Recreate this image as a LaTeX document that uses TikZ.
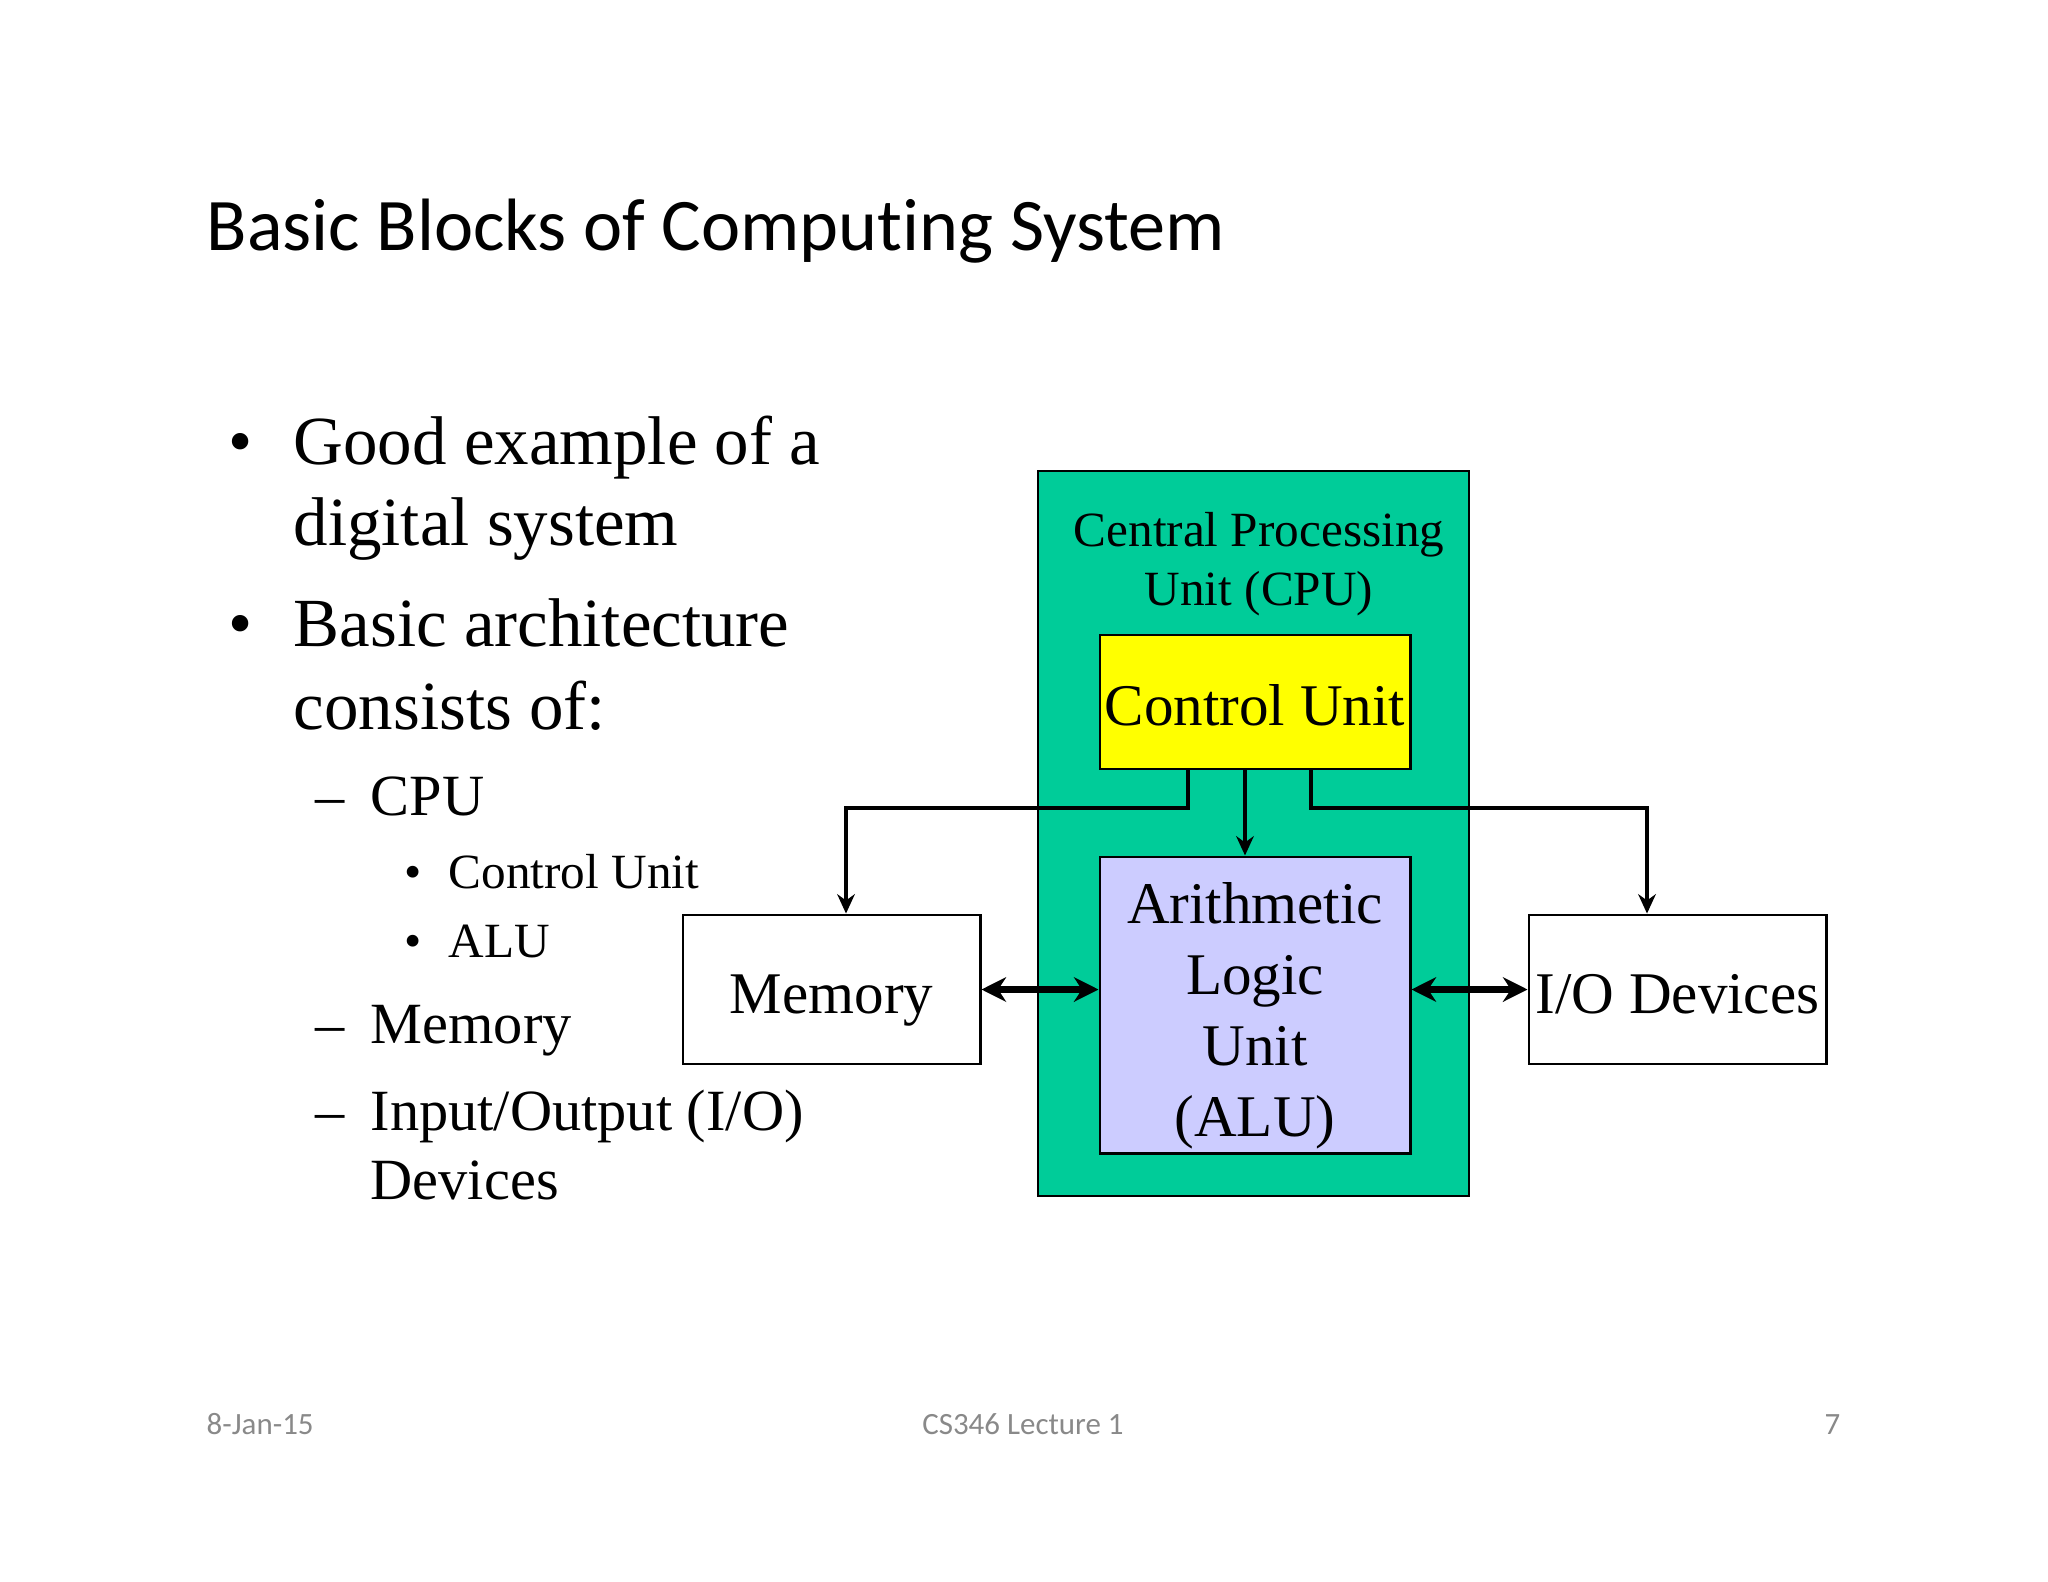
\documentclass[tikz,border=0pt]{standalone}
\usepackage{fontspec}
\setmainfont{Liberation Serif}
\newfontfamily\slidefont[Ligatures=NoCommon]{Carlito}
\usetikzlibrary{arrows.meta}

\definecolor{cpugreen}{RGB}{0,204,153}
\definecolor{cuyellow}{RGB}{255,255,0}
\definecolor{alublue}{RGB}{204,204,255}
\definecolor{footgray}{RGB}{137,137,137}

\tikzset{
  unitbox/.style={draw, line width=0.8pt, inner sep=0pt,
    font=\fontsize{16.8}{20.2}\selectfont},
  oneline/.style={text height=15pt, text depth=1.4pt},
  bus/.style={line width=1.4pt, -{Stealth[length=5.5pt,width=5pt]}},
  link/.style={line width=1.9pt, {Stealth[length=7pt,width=7pt]}-{Stealth[length=7pt,width=7pt]}},
  lvlone/.style={anchor=base west, inner sep=0pt, font=\fontsize{19.6}{23.5}\selectfont},
  lvltwo/.style={anchor=base west, inner sep=0pt, font=\fontsize{16.6}{20}\selectfont},
  lvlthree/.style={anchor=base west, inner sep=0pt, font=\fontsize{14}{17}\selectfont},
  footer/.style={inner sep=0pt, text=footgray, font=\slidefont\fontsize{8.8}{10.5}\selectfont}
}

\begin{document}
\begin{tikzpicture}[x=0.01cm, y=-0.01cm]
  \useasboundingbox (0,0) rectangle (2048,1582);

  % slide title
  \node[anchor=base west, inner sep=0pt, font=\slidefont\fontsize{21.1}{25}\selectfont] (title) at (206,251) {Basic Blocks of Computing System};

  % bullet list
  \node[lvlone] (dotgood) at (228,464) {\textbullet};
  \node[lvlone] (itemgood) at (293,464) {Good example of a};
  \node[lvlone] (itemdigital) at (293,545) {digital system};
  \node[lvlone] (dotbasic) at (228,646) {\textbullet};
  \node[lvlone] (itembasic) at (293,646) {Basic architecture};
  \node[lvlone] (itemconsists) at (293,729) {consists of:};
  \node[lvltwo] (dashcpu) at (315,815) {--};
  \node[lvltwo] (itemcpu) at (370,815) {CPU};
  \node[lvlthree] (dotcu) at (404,888) {\textbullet};
  \node[lvlthree] (itemcu) at (448,888) {Control Unit};
  \node[lvlthree] (dotalu) at (404,957) {\textbullet};
  \node[lvlthree] (itemalu) at (448,957) {ALU};
  \node[lvltwo] (dashmem) at (315,1043) {--};
  \node[lvltwo] (itemmem) at (370,1043) {Memory};
  \node[lvltwo] (dashio) at (315,1130) {--};
  \node[lvltwo] (itemio) at (370,1130) {Input/Output (I/O)};
  \node[lvltwo] (itemdev) at (370,1199) {Devices};

  % block diagram
  \node[draw, line width=0.6pt, fill=cpugreen, minimum width=4.31cm, minimum height=7.25cm] (cpu) at (1253.5,833.5) {};
  \node[align=center, inner sep=0pt, font=\fontsize{14}{16.8}\selectfont] (cpuname) at (1259,564) {Central Processing\\Unit (CPU)};
  \node[unitbox, oneline, fill=cuyellow, minimum width=3.10cm, minimum height=1.34cm] (cu) at (1255,702) {Control Unit};
  \node[unitbox, align=center, fill=alublue, minimum width=3.10cm, minimum height=2.96cm] (alu) at (1255,1005) {\rule{0pt}{1.05em}Arithmetic\\Logic\\Unit\\(ALU)};
  \node[unitbox, oneline, fill=white, minimum width=2.97cm, minimum height=1.49cm] (mem) at (831.5,989.5) {Memory};
  \node[unitbox, oneline, fill=white, minimum width=2.97cm, minimum height=1.49cm] (io) at (1677.5,989.5) {I/O Devices};

  \coordinate (leftbus) at (1188,808);
  \coordinate (memtap) at (846,808);
  \coordinate (rightbus) at (1311,808);
  \coordinate (iotap) at (1647,808);

  \draw[bus] (cu.south -| leftbus) |- (memtap) -- (mem.north -| memtap);
  \draw[bus] ([xshift=-0.1cm]cu.south) -- ([xshift=-0.1cm]alu.north);
  \draw[bus] (cu.south -| rightbus) |- (iotap) -- (io.north -| iotap);
  \draw[link] (mem.east) -- (mem.east -| alu.west);
  \draw[link] (io.west) -- (io.west -| alu.east);

  % footer
  \node[footer, anchor=base west] (date) at (206,1434) {8-Jan-15};
  \node[footer, anchor=base] (course) at (1023,1434) {CS346 Lecture 1};
  \node[footer, anchor=base east] (page) at (1841,1434) {7};
\end{tikzpicture}
\end{document}
